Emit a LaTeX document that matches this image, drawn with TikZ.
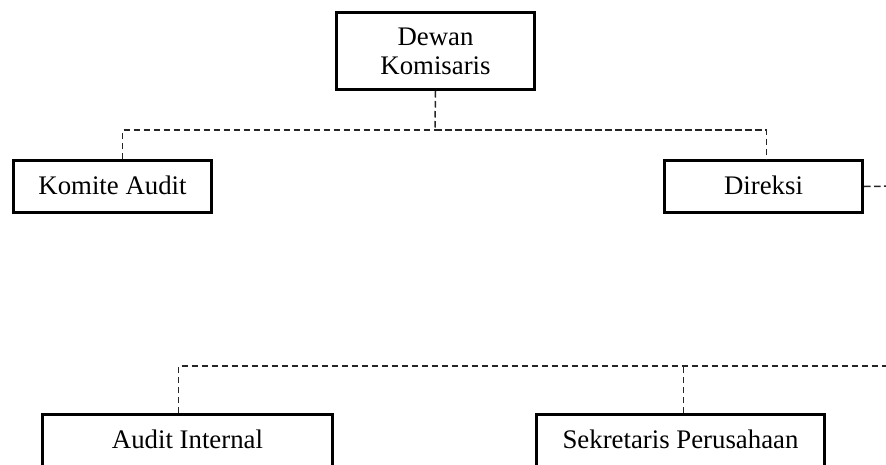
\documentclass[tikz,border=0pt]{standalone}
\usepackage{fontspec}
\setmainfont{Liberation Serif}
\begin{document}
\begin{tikzpicture}[x=1pt,y=1pt,
  box/.style={draw=black, line width=3pt, fill=white, inner xsep=4pt,
    inner ysep=15pt, text height=19pt, text depth=3pt, anchor=north west,
    font=\fontsize{26.8}{29}\selectfont},
  conn/.style={draw=black!85, line width=1.5pt, dash pattern=on 6.5pt off 3.5pt}]
\useasboundingbox (0,0) rectangle (886,-464);
\clip (0,0) rectangle (886,-464);
\fill[white] (0,0) rectangle (886,-464);

% boxes
\node[draw=black, line width=3pt, fill=white, anchor=north west,
  minimum width=198pt, minimum height=77pt, align=center,
  font=\fontsize{26.8}{29}\selectfont] (dk) at (335,-11) {Dewan\\Komisaris};
\node[box, minimum width=198pt] (ka) at (12,-159) {Komite Audit};
\node[box, minimum width=198pt] (dir) at (663,-159) {Direksi};
\node[box, minimum width=290pt, text depth=70pt] (ai) at (41,-413) {Audit Internal};
\node[box, minimum width=288pt, text depth=70pt] (sp) at (535,-413) {Sekretaris Perusahaan};

% junction points and off-page ends
\coordinate (j1) at (435,-130);
\coordinate (dirend) at (900,-186);
\coordinate (lowend) at (900,-366);

% connectors
\draw[conn] (dk.south) -- (j1);
\draw[conn] ([xshift=10pt]ka.north) |- (j1);
\draw[conn] (j1) -| ([xshift=3pt]dir.north);
\draw[conn] (dir.east) -- (dirend);
\draw[conn] ([xshift=-9pt]ai.north) |- (lowend);
\draw[conn] ([xshift=3pt]sp.north) -- ([xshift=3pt]sp.north |- lowend);
\end{tikzpicture}
\end{document}
